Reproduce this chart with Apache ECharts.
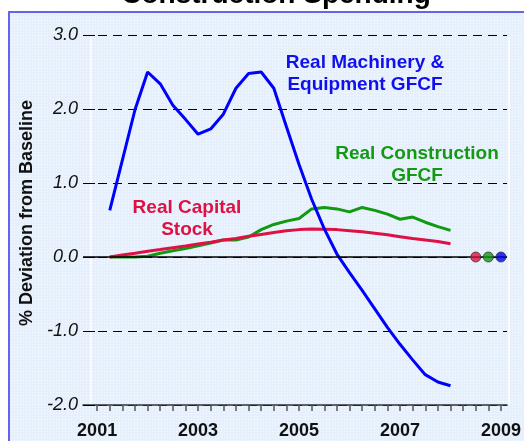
<!DOCTYPE html>
<html>
<head>
<meta charset="utf-8">
<script src="https://cdn.jsdelivr.net/npm/echarts@6/dist/echarts.min.js"></script>
<style>
  html, body { margin: 0; padding: 0; background: #fff; }
  #frame {
    position: absolute; left: 8px; top: 11px; width: 530px; height: 440px;
    background-color: #e6f0fc;
    background-image: radial-gradient(rgba(255,255,255,0.7) 0.6px, transparent 0.8px);
    background-size: 3px 3px;
    border-left: 2px solid #6464ee; border-top: 2px solid #6464ee;
  }
  #chart { position: absolute; left: 0; top: 0; width: 524px; height: 441px; }
</style>
</head>
<body>
<div id="frame"></div>
<div id="chart"></div>
<script>
// quarterly points, % deviation from baseline
var quarters = [
  '2001Q2', '2001Q3', '2001Q4', '2002Q1', '2002Q2', '2002Q3', '2002Q4',
  '2003Q1', '2003Q2', '2003Q3', '2003Q4', '2004Q1', '2004Q2', '2004Q3', '2004Q4',
  '2005Q1', '2005Q2', '2005Q3', '2005Q4', '2006Q1', '2006Q2', '2006Q3', '2006Q4',
  '2007Q1', '2007Q2', '2007Q3', '2007Q4', '2008Q1'
]
var machinery = [
  0.63, 1.31, 1.99, 2.50, 2.34, 2.05, 1.86,
  1.66, 1.73, 1.93, 2.28, 2.48, 2.50, 2.28, 1.76,
  1.25, 0.78, 0.38, 0.04, -0.21, -0.45, -0.70, -0.95,
  -1.18, -1.39, -1.59, -1.69, -1.74
]
var construction = [
  0.00, 0.00, 0.00, 0.01, 0.05, 0.085, 0.115,
  0.15, 0.19, 0.23, 0.23, 0.27, 0.37, 0.44, 0.485,
  0.52, 0.65, 0.67, 0.65, 0.61, 0.67, 0.63, 0.58,
  0.51, 0.54, 0.47, 0.41, 0.36
]
var capitalStock = [
  0.00, 0.027, 0.05, 0.077, 0.10, 0.126, 0.15,
  0.175, 0.20, 0.23, 0.25, 0.28, 0.305, 0.33, 0.355,
  0.37, 0.38, 0.375, 0.37, 0.355, 0.34, 0.32, 0.30,
  0.275, 0.25, 0.23, 0.21, 0.18
]
var yearLabels = [2001, 2003, 2005, 2007, 2009]
var endDots = [2008.5, 2008.75, 2009]
var dotColors = ['#dd1144', '#119911', '#0000ee']

function qToX(q) {
  // the chart puts 2001Q1 on the 2001 tick
  return +q.slice(0, 4) + (+q.slice(5) - 1) / 4
}
function pairs(vals) {
  return vals.map(function(v, i) { return [qToX(quarters[i]), v] })
}

var tickVals = []
for (var t = 0; t <= 32; t++) tickVals.push(2001 + t / 4)

var chart = echarts.init(document.getElementById('chart'), null, { renderer: 'canvas' })
chart.setOption({
  animation: false,
  backgroundColor: 'transparent',
  grid: { left: 83, top: 35, width: 425, height: 370 },
  xAxis: {
    type: 'value',
    min: 2000.72,
    max: 2009.12,
    axisLine: { onZero: false, lineStyle: { color: '#333', width: 1.5 } },
    axisTick: { customValues: tickVals, length: 6, lineStyle: { color: '#555', width: 1.5 } },
    axisLabel: {
      customValues: yearLabels,
      margin: 17,
      fontFamily: 'Liberation Sans, Arial, sans-serif',
      fontWeight: 'bold',
      fontSize: 18,
      color: '#111',
      formatter: function(v) { return String(Math.round(v)) }
    },
    splitLine: { show: false }
  },
  yAxis: {
    type: 'value',
    min: -2,
    max: 3,
    interval: 1,
    name: '% Deviation from Baseline',
    nameLocation: 'middle',
    nameRotate: 90,
    nameGap: 47,
    nameTextStyle: {
      fontFamily: 'Liberation Sans, Arial, sans-serif',
      fontWeight: 'bold',
      fontSize: 18,
      color: '#111',
      padding: [0, 0, 0, 14]
    },
    axisLine: { show: false },
    axisTick: { show: true, inside: true, length: 12, lineStyle: { color: '#000', width: 1 } },
    axisLabel: {
      margin: 5,
      fontFamily: 'Arial',
      fontStyle: 'italic',
      fontSize: 18,
      color: '#111',
      formatter: function(v) { return v.toFixed(1) }
    },
    splitLine: { show: true, lineStyle: { color: '#000', width: 1, type: [9, 6] } }
  },
  graphic: [
    { type: 'line', silent: true, z: 0, shape: { x1: 91, y1: 37, x2: 91, y2: 404 }, style: { stroke: '#fff', lineWidth: 1.5 } },
    { type: 'line', silent: true, z: 0, shape: { x1: 509, y1: 37, x2: 509, y2: 404 }, style: { stroke: '#fff', lineWidth: 1.5 } },
    {
      type: 'text', x: 276, y: -19,
      style: { text: 'Construction Spending', fill: '#000', align: 'center',
        font: 'bold 28px "Liberation Sans", Arial, sans-serif' }
    },
    {
      type: 'text', x: 365, y: 74,
      style: { text: 'Real Machinery &\nEquipment GFCF', fill: '#1010ee', align: 'center', verticalAlign: 'middle',
        lineHeight: 22, font: 'bold 19px "Liberation Sans", Arial, sans-serif' }
    },
    {
      type: 'text', x: 417, y: 164.5,
      style: { text: 'Real Construction\nGFCF', fill: '#129a12', align: 'center', verticalAlign: 'middle',
        lineHeight: 22, font: 'bold 19px "Liberation Sans", Arial, sans-serif' }
    },
    {
      type: 'text', x: 187, y: 219,
      style: { text: 'Real Capital\nStock', fill: '#dd1144', align: 'center', verticalAlign: 'middle',
        lineHeight: 22, font: 'bold 19px "Liberation Sans", Arial, sans-serif' }
    }
  ],
  series: [
    {
      name: 'Real Construction GFCF',
      type: 'line',
      data: pairs(construction),
      symbol: 'none',
      lineStyle: { color: '#119911', width: 3 },
      markLine: {
        silent: true,
        symbol: 'none',
        label: { show: false },
        lineStyle: { color: '#000', width: 1.5, type: 'solid' },
        data: [{ yAxis: 0 }]
      }
    },
    {
      name: 'Real Capital Stock',
      type: 'line',
      data: pairs(capitalStock),
      symbol: 'none',
      lineStyle: { color: '#dd1144', width: 3 }
    },
    {
      name: 'Real Machinery & Equipment GFCF',
      type: 'line',
      data: pairs(machinery),
      symbol: 'none',
      lineStyle: { color: '#0000ff', width: 3 }
    },
    {
      type: 'scatter',
      z: 5,
      symbolSize: 10,
      data: endDots.map(function(x, i) {
        return { value: [x, 0], itemStyle: { color: dotColors[i] } }
      }),
      itemStyle: { borderColor: '#333', borderWidth: 1 }
    }
  ]
})
</script>
</body>
</html>
